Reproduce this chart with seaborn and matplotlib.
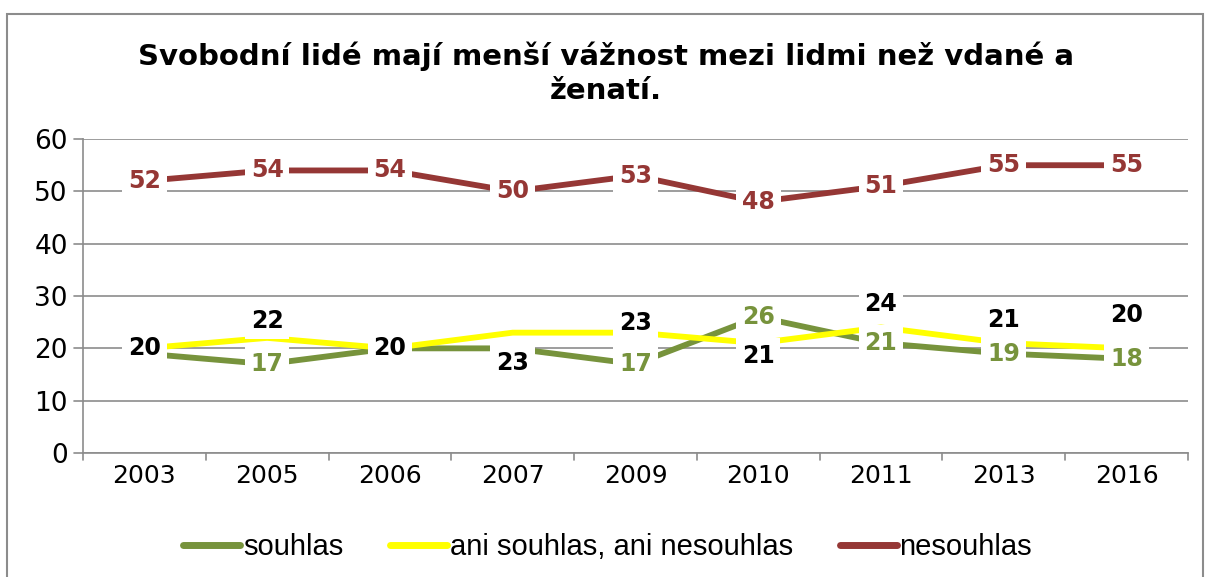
import pandas as pd
import seaborn as sns
import matplotlib.pyplot as plt
from matplotlib.patches import Rectangle

# --- Data ---
years = ["2003", "2005", "2006", "2007", "2009", "2010", "2011", "2013", "2016"]
souhlas = [19, 17, 20, 20, 17, 26, 21, 19, 18]
ani = [20, 22, 20, 23, 23, 21, 24, 21, 20]
nesouhlas = [52, 54, 54, 50, 53, 48, 51, 55, 55]
series_names = ["souhlas", "ani souhlas, ani nesouhlas", "nesouhlas"]

title = "Svobodní lidé mají menší vážnost mezi lidmi než vdané a\nženatí."

# label placement (points), Excel-style manual nudges
ani_label_dy = [0, 12, 0, -22, 7, -9, 17, 17, 24]
souhlas_show = [False, True, False, False, True, True, True, True, True]

colors = {"souhlas": "#77933C", "ani souhlas, ani nesouhlas": "#FFFF00", "nesouhlas": "#953735"}
label_colors = {"souhlas": "#77933C", "ani souhlas, ani nesouhlas": "black", "nesouhlas": "#953735"}

df = pd.DataFrame({
    "rok": years * 3,
    "hodnota": souhlas + ani + nesouhlas,
    "serie": [n for n in series_names for _ in years],
})

sns.set_theme(style="white")
plt.rcParams["font.family"] = ["DejaVu Sans"]
plt.rcParams["text.color"] = "black"

fig = plt.figure(figsize=(12.06, 5.77), dpi=100)
ax = fig.add_axes([0.0688, 0.2149, 0.9162, 0.5441])

sns.lineplot(data=df, x="rok", y="hodnota", hue="serie", palette=colors,
             hue_order=series_names, linewidth=4.2, ax=ax, sort=False)

ax.set_ylim(0, 60)
ax.set_xlim(-0.5, len(years) - 0.5)
ax.set_yticks(range(0, 61, 10))
ax.set_xticks(range(len(years)))
ax.set_xticklabels(years)
ax.tick_params(axis="both", labelsize=18, colors="black", length=0, pad=8)
ax.tick_params(axis="y", labelsize=19, pad=11)
ax.set_xlabel("")
ax.set_ylabel("")
ax.grid(axis="y", color="#8C8C8C", linewidth=1.2)
ax.set_axisbelow(True)
for s in ["top", "right"]:
    ax.spines[s].set_visible(False)
for s in ["left", "bottom"]:
    ax.spines[s].set_color("#8C8C8C")
    ax.spines[s].set_linewidth(1.2)

# Excel style tick marks
for i in range(len(years) + 1):
    ax.plot([i - 0.5, i - 0.5], [0, -1.3], color="#8C8C8C", lw=1.2, clip_on=False)
for v in range(0, 61, 10):
    ax.plot([-0.5, -0.57], [v, v], color="#8C8C8C", lw=1.2, clip_on=False)

box = dict(boxstyle="square,pad=0.25", fc="white", ec="none")


def put(x, y, txt, col, dy=0):
    ax.annotate(txt, (x, y), xytext=(0, dy), textcoords="offset points",
                ha="center", va="center", fontsize=17, fontweight="bold",
                color=col, bbox=box, zorder=5)


for i, v in enumerate(nesouhlas):
    put(i, v, str(v), label_colors["nesouhlas"])
for i, v in enumerate(souhlas):
    if souhlas_show[i]:
        put(i, v, str(v), label_colors["souhlas"])
for i, v in enumerate(ani):
    put(i, v, str(v), label_colors["ani souhlas, ani nesouhlas"], ani_label_dy[i])

fig.text(0.5025, 0.8726, title, ha="center", va="center", fontsize=21,
         fontweight="bold", linespacing=1.27, color="black")

leg = ax.legend(loc="center", bbox_to_anchor=(0.475, -0.30), ncol=3, frameon=False,
                fontsize=21, handlelength=1.95, handletextpad=0.1, columnspacing=1.6)
for line in leg.get_lines():
    line.set_linewidth(5)
for t in leg.get_texts():
    t.set_fontfamily("Liberation Sans")
    t.set_color("black")

fig.patches.append(Rectangle((7 / 1206, -0.01), 1196 / 1206, 1 - 14 / 577 + 0.01,
                             transform=fig.transFigure, fill=False,
                             ec="#8C8C8C", lw=1.5))

fig.savefig("out.png", dpi=100)
